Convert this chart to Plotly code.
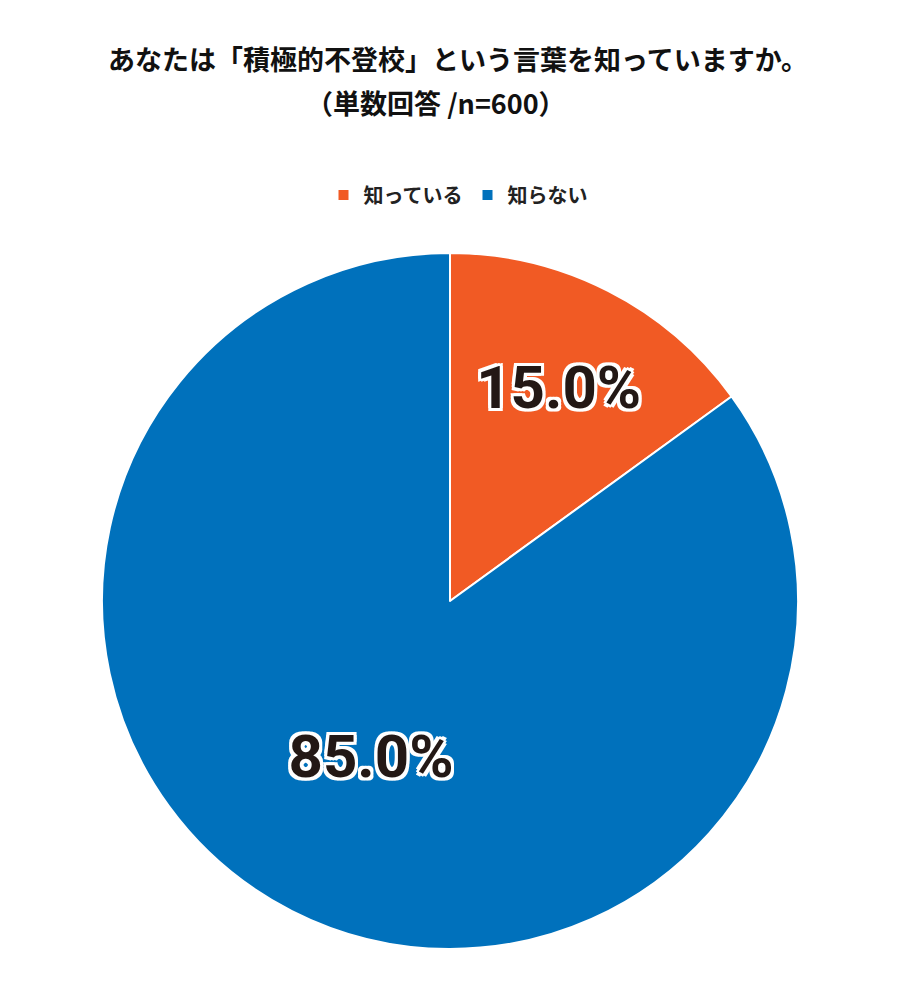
import plotly.graph_objects as go

labels = ["知っている", "知らない"]
values = [15.0, 85.0]
colors = ["#F15A24", "#0071BC"]
title_lines = ["あなたは「積極的不登校」という言葉を知っていますか。", "（単数回答 /n=600）"]

outline = ",".join(f"{dx}px {dy}px 0 white" for dx in (-3, 0, 3) for dy in (-3, 0, 3) if dx or dy)

fig = go.Figure(go.Pie(
    labels=labels, values=values, sort=False, direction="clockwise", rotation=0,
    marker=dict(colors=colors, line=dict(color="white", width=2)),
    texttemplate="%{value:.1f}%", textposition="inside", insidetextorientation="horizontal",
    textfont=dict(family="Roboto, Noto Sans CJK JP", size=60, color="#231815", weight="bold", shadow=outline),
    domain=dict(x=[94/900, 790/900], y=[0.059, 0.755]),
    hoverinfo="none",
))
fig.update_layout(
    width=900, height=1000, margin=dict(l=0, r=0, t=0, b=0),
    paper_bgcolor="white", plot_bgcolor="white",
    font=dict(family="Noto Sans CJK JP"),
    annotations=[
        dict(text=title_lines[0], x=0.5, y=1 - 50/1000, xref="paper", yref="paper",
             xanchor="center", yanchor="middle", showarrow=False,
             font=dict(size=27, color="#111", weight="bold")),
        dict(text=title_lines[1], x=0.475, y=1 - 95/1000, xref="paper", yref="paper",
             xanchor="center", yanchor="middle", showarrow=False,
             font=dict(size=27, color="#111", weight="bold")),
    ],
    legend=dict(orientation="h", x=0.5, xanchor="center", y=1 - 187/1000, yanchor="middle",
                font=dict(size=20, color="#222", weight="bold"), itemwidth=30, tracegroupgap=20),
)
fig.write_html("out.html")
